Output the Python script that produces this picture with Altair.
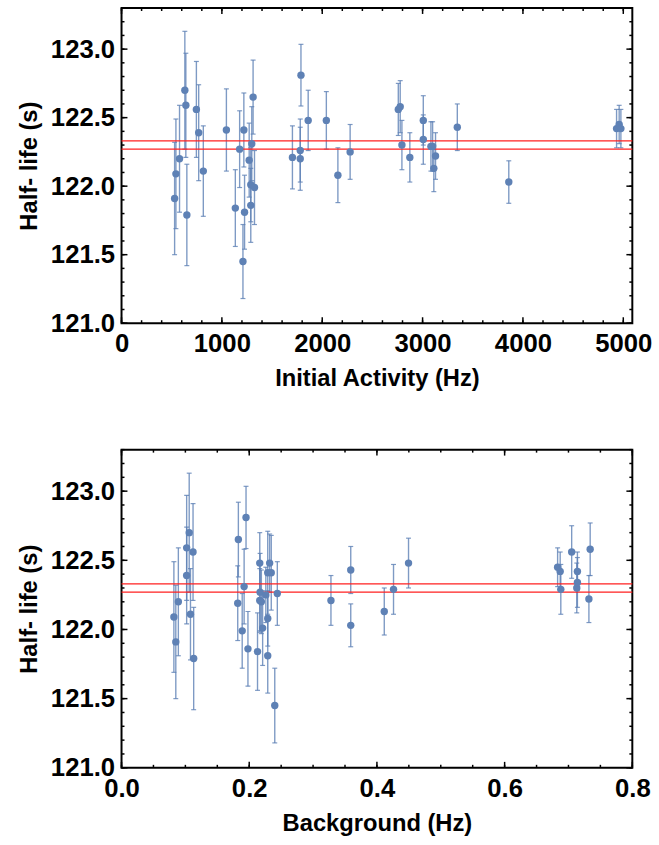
import altair as alt
import pandas as pd

# ---- data ----
activity = [529, 542, 578, 631, 641, 651, 746, 769, 815, 1045,
            1134, 1177, 1219, 1226, 1210, 1272, 1288, 1288, 1298, 1311,
            1325, 1703, 1788, 1781, 1781, 1860, 2041, 2156, 2278, 2758,
            2777, 2794, 2873, 3007, 3007, 3083, 3100, 3112, 3129, 3346,
            3859, 4933, 4959, 4976]
background = [0.085, 0.082, 0.089, 0.106, 0.102, 0.113, 0.112, 0.102, 0.108, 0.229,
              0.213, 0.217, 0.2345, 0.229, 0.240, 0.182, 0.221, 0.198, 0.192, 0.183,
              0.189, 0.2165, 0.195, 0.244, 0.219, 0.2165, 0.232, 0.229, 0.226, 0.705,
              0.734, 0.713, 0.328, 0.4495, 0.714, 0.426, 0.688, 0.4115, 0.732, 0.359,
              0.359, 0.687, 0.683, 0.714]
half_life = [121.91, 122.09, 122.20, 122.70, 122.59, 121.79, 122.56, 122.39, 122.11, 122.41,
             121.84, 122.27, 122.41, 121.81, 121.45, 122.19, 122.01, 121.86, 122.31, 122.65,
             121.99, 122.21, 122.81, 122.26, 122.20, 122.48, 122.48, 122.08, 122.25, 122.56,
             122.58, 122.30, 122.21, 122.48, 122.34, 122.29, 122.29, 122.13, 122.22, 122.43,
             122.03, 122.42, 122.45, 122.42]
error = [0.41, 0.40, 0.39, 0.43, 0.38, 0.37, 0.35, 0.35, 0.33, 0.30,
         0.28, 0.28, 0.27, 0.27, 0.27, 0.27, 0.27, 0.27, 0.27, 0.27,
         0.27, 0.23, 0.225, 0.23, 0.23, 0.22, 0.21, 0.20, 0.20, 0.19,
         0.19, 0.18, 0.18, 0.18, 0.18, 0.18, 0.18, 0.17, 0.17, 0.17,
         0.155, 0.14, 0.14, 0.14]
band = [122.27, 122.33]

y_domain = [121.0, 123.3]
y_labels = [121.0, 121.5, 122.0, 122.5, 123.0]
y_minor = [round(121.0 + 0.1 * i, 1) for i in range(24)]

act_domain = [0, 5090]
act_labels = [0, 1000, 2000, 3000, 4000, 5000]
act_minor = list(range(0, 5001, 200))

bg_domain = [0, 0.8]
bg_labels = [0.0, 0.2, 0.4, 0.6, 0.8]
bg_minor = [round(0.05 * i, 2) for i in range(17)]

df = pd.DataFrame({"activity": activity, "background": background,
                   "half_life": half_life, "error": error})

FONT = "Liberation Sans"
BLUE = "#5E81B5"
W = 517


def panel(xfield, xdomain, xlabels, xfmt, xminor, xtitle, H):
    xscale = alt.Scale(domain=xdomain, nice=False, zero=False)
    yscale = alt.Scale(domain=y_domain, nice=False, zero=False)
    xax = alt.Axis(values=xlabels, format=xfmt, title=xtitle, labelFlush=False,
                   labelPadding=8, titlePadding=10, labelOverlap=False)
    yax = alt.Axis(values=y_labels, format=".1f", title="Half- life (s)",
                   labelPadding=7, titlePadding=9)
    base = alt.Chart(df).transform_calculate(
        lo="datum.half_life - datum.error", hi="datum.half_life + datum.error")
    xe = alt.X(f"{xfield}:Q", scale=xscale, axis=xax, title=xtitle)

    def ye(f):
        return alt.Y(f"{f}:Q", scale=yscale, axis=yax, title="Half- life (s)")

    err = base.mark_rule(color=BLUE, strokeWidth=1.4, opacity=0.8).encode(
        x=xe, y=ye("lo"), y2="hi:Q")
    cap_lo = base.mark_tick(color=BLUE, orient="horizontal", size=5, thickness=1.2,
                            opacity=0.8).encode(x=xe, y=ye("lo"))
    cap_hi = base.mark_tick(color=BLUE, orient="horizontal", size=5, thickness=1.2,
                            opacity=0.8).encode(x=xe, y=ye("hi"))
    red = alt.Chart(pd.DataFrame({"v": band})).mark_rule(
        color="#ff2020", strokeWidth=1.2).encode(y=ye("v"))
    pts = alt.Chart(df).mark_circle(size=56, opacity=1, color=BLUE).encode(
        x=xe, y=ye("half_life"))

    layers = [err, cap_lo, cap_hi, red, pts]

    def xt(vals, length):
        d = alt.Chart(pd.DataFrame({"v": vals}))
        xv = alt.X("v:Q", scale=xscale, axis=xax, title=xtitle)
        return [
            d.mark_rule(color="black", strokeWidth=1.5).encode(
                x=xv, y=alt.value(H), y2=alt.value(H - length)),
            d.mark_rule(color="black", strokeWidth=1.5).encode(
                x=xv, y=alt.value(0), y2=alt.value(length)),
        ]

    def yt(vals, length):
        d = alt.Chart(pd.DataFrame({"v": vals}))
        return [
            d.mark_rule(color="black", strokeWidth=1.5).encode(
                y=ye("v"), x=alt.value(0), x2=alt.value(length)),
            d.mark_rule(color="black", strokeWidth=1.5).encode(
                y=ye("v"), x=alt.value(W), x2=alt.value(W - length)),
        ]

    layers += xt(xminor, 3) + xt(xlabels, 6) + yt(y_minor, 3) + yt(y_labels, 6)
    return alt.layer(*layers).properties(width=W, height=H)


top = panel("activity", act_domain, act_labels, "d", act_minor,
            "Initial Activity (Hz)", 319)
bottom = panel("background", bg_domain, bg_labels, ".1f", bg_minor,
               "Background (Hz)", 322)

chart = alt.vconcat(top, bottom, spacing=57).properties(
    padding={"left": 16, "top": 1, "right": 6, "bottom": 2},
    background="white"
).configure_view(
    stroke="black", strokeWidth=2
).configure_axis(
    labelFont=FONT, titleFont=FONT, labelFontSize=26, titleFontSize=24,
    labelFontWeight="bold", titleFontWeight="bold",
    labelColor="black", titleColor="black",
    grid=False, domain=False, ticks=False, tickSize=0
)

chart.save("out.html", embed_options={"renderer": "svg", "actions": False})
